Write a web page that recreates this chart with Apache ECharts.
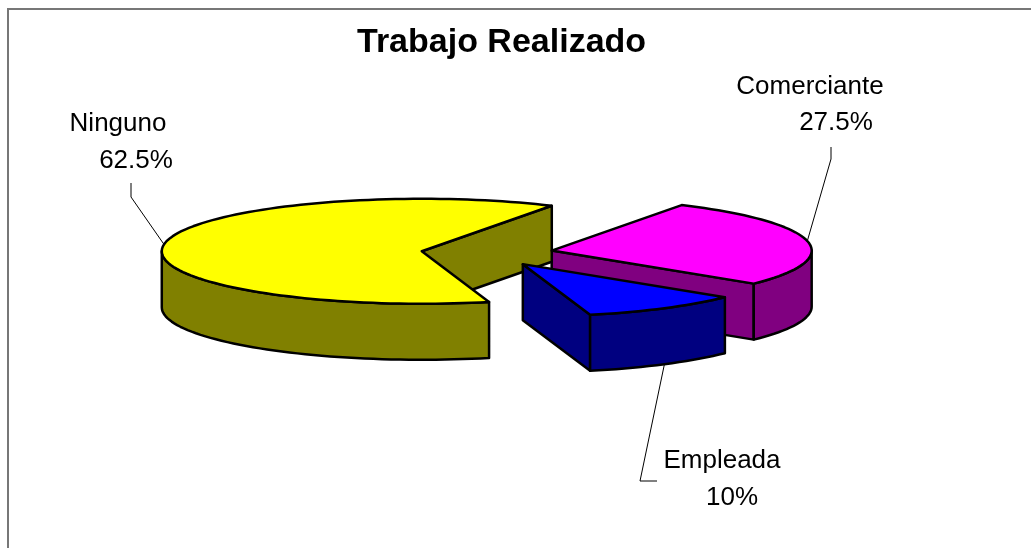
<!DOCTYPE html>
<html>
<head>
<meta charset="utf-8">
<title>Trabajo Realizado</title>
<script src="https://cdn.jsdelivr.net/npm/echarts@6/dist/echarts.min.js"></script>
<style>
  html, body { margin: 0; padding: 0; background: #fff; }
  #chart { width: 1031px; height: 548px; }
</style>
</head>
<body>
<div id="chart"></div>
<script>
// datos
const categories = ['Comerciante', 'Empleada', 'Ninguno'];
const values = [27.5, 10, 62.5];
const topColors = ['#FF00FF', '#0000FF', '#FFFF00'];
const sideColors = ['#800080', '#000080', '#808000'];

// geometria del pastel 3D
const cx = 487, cy = 253;
const rx = 260, ry = 52.5, depth = 56;
const explode = 0.253;
const startAngle = 30;
const D2R = Math.PI / 180;
const total = values.reduce((s, v) => s + v, 0);

// posicion de etiquetas (movidas a mano, como en Excel)
const labelLayout = [
  { name: [810, 87], pct: [836, 123], lead: [[831, 147], [831, 159]] },
  { name: [722, 461], pct: [732, 498], lead: [[657, 481], [640, 481]] },
  { name: [118, 124], pct: [136, 161], lead: [[131, 183], [131, 197]] }
];

function pt(ox, oy, a, h) {
  return [cx + ox + rx * Math.sin(a * D2R), cy + oy - ry * Math.cos(a * D2R) + h];
}
function arc(ox, oy, a, b, h) {
  const n = Math.max(2, Math.ceil(Math.abs(b - a) / 2) + 1);
  const pts = [];
  for (let i = 0; i < n; i++) {
    pts.push(pt(ox, oy, a + (b - a) * i / (n - 1), h));
  }
  return pts;
}

function renderItem(params, api) {
  const i = params.dataIndex;
  let before = 0;
  for (let j = 0; j < i; j++) before += values[j];
  const a1 = startAngle + before / total * 360;
  const a2 = a1 + api.value(0) / total * 360;
  const mid = (a1 + a2) / 2;
  const ox = explode * rx * Math.sin(mid * D2R);
  const oy = -explode * ry * Math.cos(mid * D2R);
  const base = (Math.round(oy) + 100) * 10;
  const side = { fill: sideColors[i], stroke: '#000', lineWidth: 2.5, lineJoin: 'round' };
  const top = { fill: topColors[i], stroke: '#000', lineWidth: 2.5, lineJoin: 'round' };
  const c0 = [cx + ox, cy + oy], c1 = [cx + ox, cy + oy + depth];
  const children = [];

  // caras de corte
  if (Math.sin(a1 * D2R) < 0) {
    children.push({ type: 'polygon', z2: base, shape: { points: [c0, pt(ox, oy, a1, 0), pt(ox, oy, a1, depth), c1] }, style: side });
  }
  if (Math.sin(a2 * D2R) > 0) {
    children.push({ type: 'polygon', z2: base, shape: { points: [c0, pt(ox, oy, a2, 0), pt(ox, oy, a2, depth), c1] }, style: side });
  }
  // pared exterior visible
  [-360, 0, 360].forEach(k => {
    const lo = Math.max(a1, 90 + k), hi = Math.min(a2, 270 + k);
    if (hi > lo) {
      const pts = arc(ox, oy, lo, hi, 0).concat(arc(ox, oy, hi, lo, depth));
      children.push({ type: 'polygon', z2: base + 1, shape: { points: pts }, style: side });
    }
  });
  // tapa
  children.push({ type: 'polygon', z2: base + 2, shape: { points: [c0].concat(arc(ox, oy, a1, a2, 0)) }, style: top });

  // etiqueta con linea guia
  const lay = labelLayout[i];
  const anchor = Math.cos(mid * D2R) < -0.4 ? pt(ox, oy, mid, depth) : pt(ox, oy, mid, 0);
  children.push({ type: 'polyline', z2: 5000, shape: { points: lay.lead.concat([anchor]) }, style: { stroke: '#000', lineWidth: 1, fill: null } });
  const pct = +(api.value(0) / total * 100).toFixed(1) + '%';
  const txt = { fill: '#000', fontSize: 26, fontFamily: 'Arial, "Liberation Sans", sans-serif', align: 'center', verticalAlign: 'middle' };
  children.push({ type: 'text', z2: 5000, style: Object.assign({ text: categories[i], x: lay.name[0], y: lay.name[1] }, txt) });
  children.push({ type: 'text', z2: 5000, style: Object.assign({ text: pct, x: lay.pct[0], y: lay.pct[1] }, txt) });

  return { type: 'group', children: children };
}

const chart = echarts.init(document.getElementById('chart'));

var option = {
  animation: false,
  title: {
    text: 'Trabajo Realizado',
    left: 352,
    top: 21,
    textStyle: {
      fontFamily: 'Arial, "Liberation Sans", sans-serif',
      fontSize: 34,
      fontWeight: 'bold',
      color: '#000'
    }
  },
  graphic: [{
    type: 'rect',
    shape: { x: 8, y: 9, width: 1100, height: 600 },
    style: { fill: null, stroke: '#777', lineWidth: 2 },
    silent: true
  }],
  series: [{
    type: 'custom',
    coordinateSystem: 'none',
    renderItem: renderItem,
    data: values.map((v, i) => ({ name: categories[i], value: v }))
  }]
};

chart.setOption(option);
</script>
</body>
</html>
